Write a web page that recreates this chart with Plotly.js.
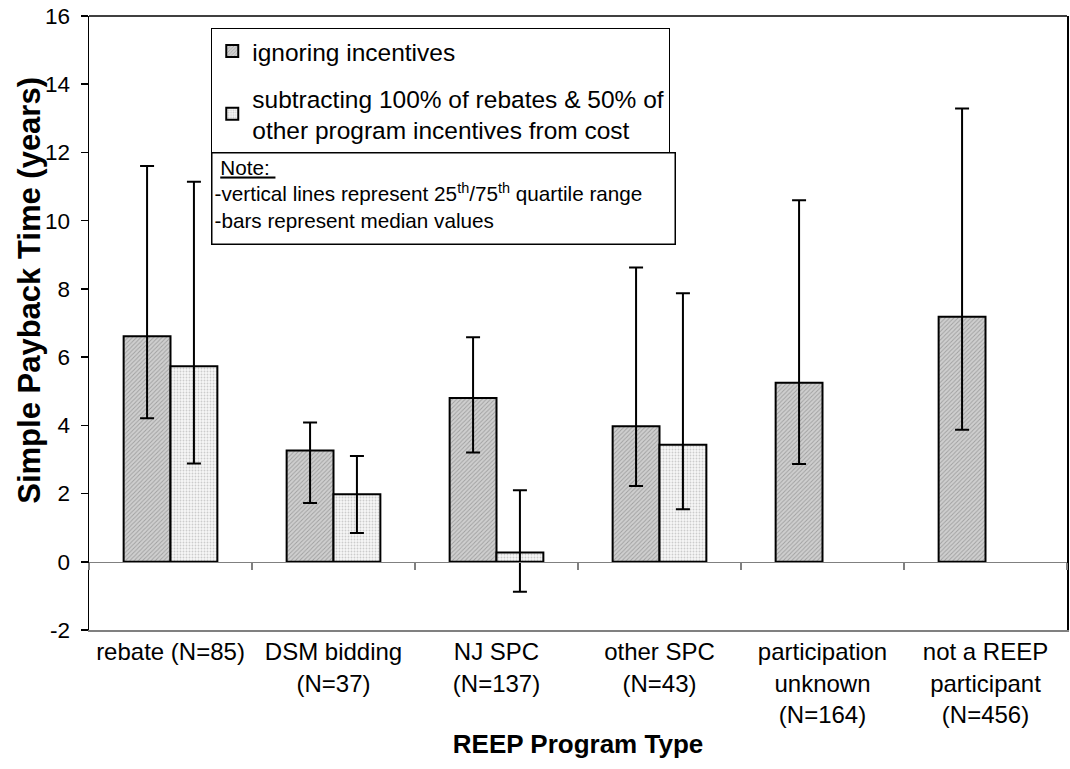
<!DOCTYPE html>
<html>
<head>
<meta charset="utf-8">
<script src="https://cdn.plot.ly/plotly-3.0.1.min.js"></script>
<style>html,body{margin:0;padding:0;background:#fff;}#chart{width:1070px;height:769px;}</style>
</head>
<body>
<div id="chart"></div>
<script>
var categories = ["rebate (N=85)", "DSM bidding<br>(N=37)", "NJ SPC<br>(N=137)", "other SPC<br>(N=43)", "participation<br>unknown<br>(N=164)", "not a REEP<br>participant<br>(N=456)"];
var seriesNames = ["ignoring incentives", "subtracting 100% of rebates & 50% of<br>other program incentives from cost"];

var medianIgnoring = [6.61, 3.26, 4.80, 3.97, 5.25, 7.18];
var q25Ignoring    = [4.21, 1.72, 3.20, 2.22, 2.87, 3.87];
var q75Ignoring    = [11.60, 4.08, 6.58, 8.63, 10.60, 13.29];

var medianSubtracting = [5.73, 1.98, 0.27, 3.43, null, null];
var q25Subtracting    = [2.88, 0.84, -0.88, 1.54, null, null];
var q75Subtracting    = [11.14, 3.10, 2.10, 7.87, null, null];

var yTickVals   = [-2, 0, 2, 4, 6, 8, 10, 12, 14, 16];
var yTickLabels = ["-2", "0", "2", "4", "6", "8", "10", "12", "14", "16"];

function diffs(a, b) { return a.map(function (v, i) { return (v === null || b[i] === null) ? null : v - b[i]; }); }

var FONT = "'Liberation Sans', Arial, sans-serif";

var traceA = {
  type: "bar", name: seriesNames[0], x: categories, y: medianIgnoring,
  legendgroup: "a",
  marker: { color: "#c4c4c4", line: { color: "#000", width: 2 },
            pattern: { shape: "/", fgcolor: "#a0a0a0", bgcolor: "#cfcfcf", size: 3, solidity: 0.3 } },
  error_y: { type: "data", symmetric: false, array: diffs(q75Ignoring, medianIgnoring),
             arrayminus: diffs(medianIgnoring, q25Ignoring), color: "#000", thickness: 2, width: 7 },
  hoverinfo: "skip"
};
var traceB = {
  type: "bar", name: seriesNames[1], x: categories, y: medianSubtracting,
  legendgroup: "b",
  marker: { color: "#f0f0f0", line: { color: "#000", width: 2 },
            pattern: { shape: ".", fgcolor: "#cccccc", bgcolor: "#f7f7f7", size: 3, solidity: 0.3 } },
  error_y: { type: "data", symmetric: false, array: diffs(q75Subtracting, medianSubtracting),
             arrayminus: diffs(medianSubtracting, q25Subtracting), color: "#000", thickness: 2, width: 7 },
  hoverinfo: "skip"
};
var zeroAxisHelper = {
  type: "scatter", mode: "markers", x: categories, y: categories.map(function () { return 0; }),
  xaxis: "x2", yaxis: "y", marker: { opacity: 0 }, showlegend: false, hoverinfo: "skip"
};

var layout = {
  width: 1070, height: 769,
  margin: { l: 89, r: 3, t: 16, b: 139 },
  paper_bgcolor: "#fff", plot_bgcolor: "#fff",
  font: { family: FONT, color: "#000", size: 22 },
  barmode: "group", bargap: 0.425, bargroupgap: 0,
  showlegend: true,
  legend: {
    x: 0.125, y: 0.981, xanchor: "left", yanchor: "top",
    bgcolor: "#fff", bordercolor: "#000", borderwidth: 1,
    font: { family: FONT, size: 24.5, color: "#000" },
    tracegroupgap: 12, itemwidth: 30
  },
  xaxis: {
    type: "category", categoryarray: categories, range: [-0.5, 5.5],
    showline: true, linecolor: "#808080", linewidth: 1.5, mirror: false,
    ticks: "", showgrid: false, zeroline: false,
    tickfont: { family: FONT, size: 24, color: "#000" },
    title: { text: "<b>REEP Program Type</b>", font: { family: FONT, size: 26, color: "#000" }, standoff: 8 },
    fixedrange: true
  },
  xaxis2: {
    type: "category", categoryarray: categories, range: [-0.5, 5.5],
    overlaying: "x", anchor: "free", position: 2 / 18, side: "bottom",
    showline: true, linecolor: "#808080", linewidth: 1.5,
    ticks: "outside", tickson: "boundaries", ticklen: 7, tickcolor: "#808080", tickwidth: 1.5,
    showticklabels: false, showgrid: false, zeroline: false, fixedrange: true
  },
  yaxis: {
    range: [-2, 16], tickmode: "array", tickvals: yTickVals, ticktext: yTickLabels,
    showline: true, linecolor: "#000", linewidth: 1.5, mirror: true,
    ticks: "outside", ticklen: 7, tickcolor: "#000", tickwidth: 1.5,
    showgrid: false, zeroline: false, ticklabelstandoff: 6,
    tickfont: { family: FONT, size: 22.5, color: "#000" },
    fixedrange: true
  },
  shapes: [
    { type: "line", xref: "paper", yref: "paper", x0: 0, x1: 1, y0: 1, y1: 1, line: { color: "#000", width: 1.5 } }
  ],
  annotations: [
    {
      xref: "paper", yref: "paper", x: -0.0604, y: 0.554, xanchor: "center", yanchor: "middle",
      text: "<b>Simple Payback Time (years)</b>", textangle: -90, showarrow: false,
      font: { family: FONT, size: 31, color: "#000" }
    },
    {
      xref: "paper", yref: "paper", x: 0.125, y: 0.779, xanchor: "left", yanchor: "top",
      text: "&nbsp;<u>Note:&nbsp;</u><br>-vertical lines represent 25<sup>th</sup>/75<sup>th</sup> quartile range<br>-bars represent median values",
      showarrow: false, align: "left", width: 458, height: 86, valign: "top",
      bordercolor: "#000", borderwidth: 1.5, borderpad: 2, bgcolor: "#fff",
      font: { family: FONT, size: 20.7, color: "#000" }
    }
  ]
};

Plotly.newPlot("chart", [traceA, traceB, zeroAxisHelper], layout, { displayModeBar: false, staticPlot: true });
</script>
</body>
</html>
